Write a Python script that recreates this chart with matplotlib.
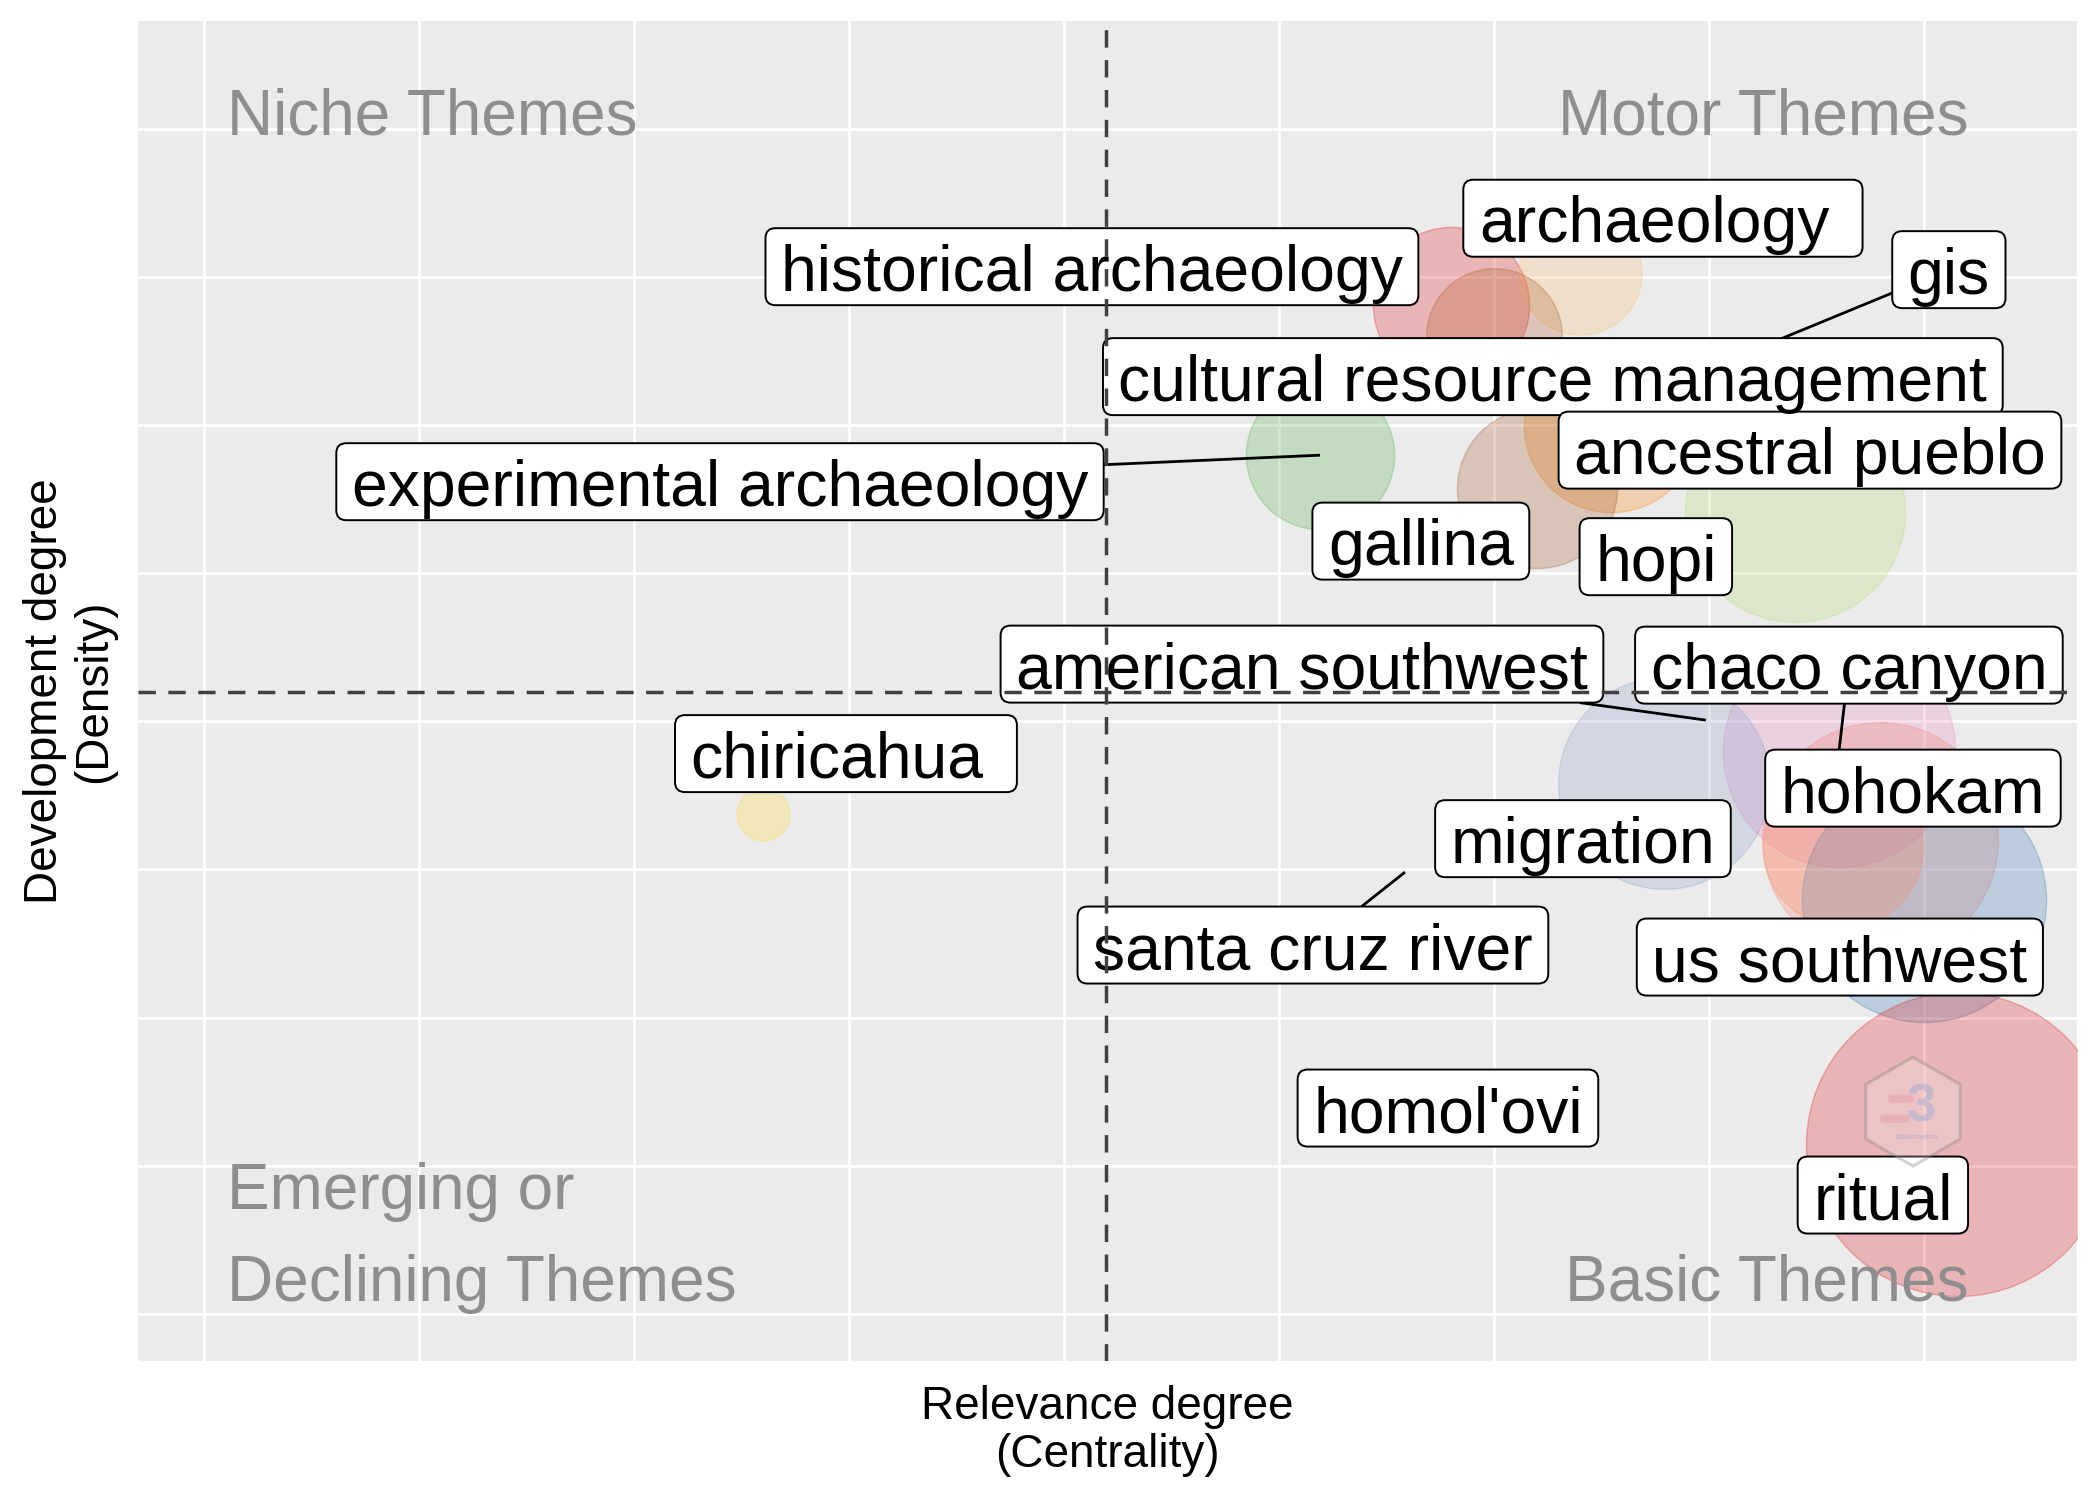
import matplotlib
matplotlib.use("Agg")
import matplotlib.pyplot as plt
from matplotlib.patches import FancyBboxPatch, Polygon
from matplotlib.colors import to_rgba
import numpy as np

# ---------------- data ----------------
themes = ["historical archaeology", "archaeology ", "cultural resource management", "gis",
          "ancestral pueblo", "experimental archaeology", "gallina", "hopi",
          "american southwest", "chaco canyon", "chiricahua ", "hohokam", "migration",
          "santa cruz river", "us southwest", "homol'ovi", "ritual"]
centrality = [5.800, 6.400, 6.000, 6.958, 6.544, 5.191, 6.200, 7.400, 6.986, 7.605,
              2.600, 7.795, 6.791, 5.586, 8.000, 7.623, 8.158]
density = [6.808, 7.024, 6.599, 6.356, 5.999, 5.796, 5.574, 5.412, 4.008, 3.799,
           3.374, 3.198, 3.583, 2.982, 2.794, 3.151, 1.147]
freq = [61, 38, 46, 3, 76, 55, 64, 121, 0, 135, 7, 139, 112, 0, 149, 64, 231]
cluster_colors = ["#E41A1C", "#FDBF6F", "#B15928", "#B2DF8A", "#FF7F00", "#4DAF4A",
                  "#A65628", "#B3DE69", "#999999", "#E78AC3", "#FFD92F", "#FB8072",
                  "#8DA0CB", "#66C2A5", "#377EB8", "#FC8D62", "#E41A1C"]
label_x = [4.130, 6.786, 6.274, 8.116, 7.470, 2.400, 5.660, 6.753, 5.107, 7.651,
           2.986, 7.949, 6.414, 5.158, 7.609, 5.786, 7.809]
label_y = [7.068, 7.395, 6.326, 7.048, 5.830, 5.617, 5.216, 5.111, 4.386, 4.379,
           3.782, 3.549, 3.208, 2.490, 2.409, 1.390, 0.803]
label_segment = [False, False, False, True, False, True, False, False, True, True,
                 False, False, False, True, False, False, False]
centrality_mean = 4.195
density_mean = 4.197
grid_x = list(range(9))
grid_y = list(range(9))
quadrant_titles = ["Niche Themes", "Motor Themes", "Emerging or", "Declining Themes", "Basic Themes"]

# ---------------- layout ----------------
plt.rcParams['font.family'] = ['Liberation Sans', 'DejaVu Sans']
plt.rcParams['lines.scale_dashes'] = False
W, H, DPI = 2100, 1500, 100
fig = plt.figure(figsize=(W / DPI, H / DPI), dpi=DPI, facecolor='white')
L, R, T, B = 138, 2077, 21, 1361
ax = fig.add_axes([L / W, 1 - B / H, (R - L) / W, (B - T) / H])
XLIM = (-0.307, 8.712)
YLIM = (-0.317, 8.726)
ax.set_xlim(XLIM)
ax.set_ylim(YLIM)
ax.set_facecolor('#EBEBEB')
for s in ax.spines.values():
    s.set_visible(False)
ax.set_xticks([])
ax.set_yticks([])
px_x = (R - L) / (XLIM[1] - XLIM[0])
px_y = (B - T) / (YLIM[1] - YLIM[0])

for xv in grid_x:
    ax.axvline(xv, color='white', lw=2.0, zorder=0.5)
for yv in grid_y:
    ax.axhline(yv, color='white', lw=2.0, zorder=0.5)

# bubbles
for cx, cy, f, c in zip(centrality, density, freq, cluster_colors):
    if f <= 0:
        continue
    s = 207.36 * f
    ax.scatter([cx], [cy], s=s, color=to_rgba(c, 0.26),
               edgecolors=[to_rgba(c, 0.30)], linewidths=1.0, zorder=2)

# labels
renderer = fig.canvas.get_renderer()
FS = 46.3
PADX = 15.5
BOXH = 77
space_probe1 = ax.text(0, 0, "x x", fontsize=FS)
space_probe2 = ax.text(0, 0, "xx", fontsize=FS)
space_w = (space_probe1.get_window_extent(renderer).width -
           space_probe2.get_window_extent(renderer).width)
space_probe1.remove()
space_probe2.remove()

for name, lx, ly, cx, cy, seg in zip(themes, label_x, label_y, centrality, density, label_segment):
    txt = name.rstrip()
    ntrail = len(name) - len(txt)
    t = ax.text(0, 0, txt, fontsize=FS, ha='left', va='baseline', color='black', zorder=5)
    tw = t.get_window_extent(renderer).width
    bw_px = tw + 2 * PADX + ntrail * space_w
    bw = bw_px / px_x
    bh = BOXH / px_y
    t.set_position((lx - bw / 2 + PADX / px_x, ly - 24 / px_y))
    box = FancyBboxPatch((lx - bw / 2, ly - bh / 2), bw, bh,
                         boxstyle=f"round,pad=0,rounding_size={10 / px_x}",
                         mutation_aspect=px_x / px_y,
                         facecolor='white', edgecolor='black', lw=1.4, zorder=4)
    ax.add_patch(box)
    if seg:
        dxp = (cx - lx) * px_x
        dyp = (cy - ly) * px_y
        tt = min((bw_px / 2) / abs(dxp) if dxp != 0 else 1e9,
                 (BOXH / 2) / abs(dyp) if dyp != 0 else 1e9)
        sx = lx + tt * dxp / px_x
        sy = ly + tt * dyp / px_y
        ax.plot([sx, cx], [sy, cy], color='black', lw=2.0, zorder=3,
                solid_capstyle='butt')

# quadrant titles
QC = '#8E8E8E'
QFS = 46.0
ax.text(0.105, 7.962, quadrant_titles[0], fontsize=QFS, color=QC, ha='left', va='baseline', zorder=6)
ax.text(8.209, 7.962, quadrant_titles[1], fontsize=QFS, color=QC, ha='right', va='baseline', zorder=6)
ax.text(0.105, 0.708, quadrant_titles[2], fontsize=QFS, color=QC, ha='left', va='baseline', zorder=6)
ax.text(0.105, 0.088, quadrant_titles[3], fontsize=QFS, color=QC, ha='left', va='baseline', zorder=6)
ax.text(8.209, 0.088, quadrant_titles[4], fontsize=QFS, color=QC, ha='right', va='baseline', zorder=6)

# mean lines (dashed, on top)
ax.axvline(centrality_mean, color='#404040', lw=2.5, linestyle=(0, (12.5, 9.0)), zorder=7)
ax.axhline(density_mean, color='#404040', lw=2.5, linestyle=(0, (12.5, 9.0)), zorder=7)

# watermark logo
hx, hy, hr = 7.949, 1.366, 54.5
ang = np.deg2rad(90 + 60 * np.arange(6))
verts = np.column_stack([hx + hr * np.cos(ang) / px_x, hy + hr * np.sin(ang) / px_y])
ax.add_patch(Polygon(verts, closed=True, facecolor=(1, 1, 1, 0.22),
                     edgecolor=(0.5, 0.5, 0.5, 0.35), lw=2.2, zorder=8))
ax.text(hx + 8 / px_x, hy + 4 / px_y, "3", fontsize=38, fontweight='bold',
        color=(0.55, 0.65, 0.85, 0.40), ha='center', va='center', zorder=9)
for bx, by, bwid in [(-12, 13, 26), (-18, -7, 30)]:
    ax.add_patch(FancyBboxPatch((hx + (bx - bwid / 2) / px_x, hy + (by - 4) / px_y),
                                bwid / px_x, 8 / px_y,
                                boxstyle=f"round,pad=0,rounding_size={4 / px_x}",
                                mutation_aspect=px_x / px_y,
                                facecolor=(0.85, 0.55, 0.6, 0.35), edgecolor='none', zorder=9))
ax.text(hx + 4 / px_x, hy - 26 / px_y, "bibliometrix", fontsize=6,
        color=(0.55, 0.6, 0.8, 0.6), ha='center', va='center', zorder=9)

# axis titles
xc = (L + R) / 2 / W
fig.text(xc, 1 - 1419 / H, "Relevance degree", fontsize=33, ha='center', va='baseline')
fig.text(xc, 1 - 1466.7 / H, "(Centrality)", fontsize=33, ha='center', va='baseline')
yc = 1 - (T + B) / 2 / H
fig.text(56.7 / W, yc, "Development degree", fontsize=33, ha='center', va='baseline',
         rotation=90, rotation_mode='anchor')
fig.text(106 / W, yc, "(Density)", fontsize=33, ha='center', va='baseline',
         rotation=90, rotation_mode='anchor')

fig.savefig("out.png", dpi=DPI, facecolor='white')
